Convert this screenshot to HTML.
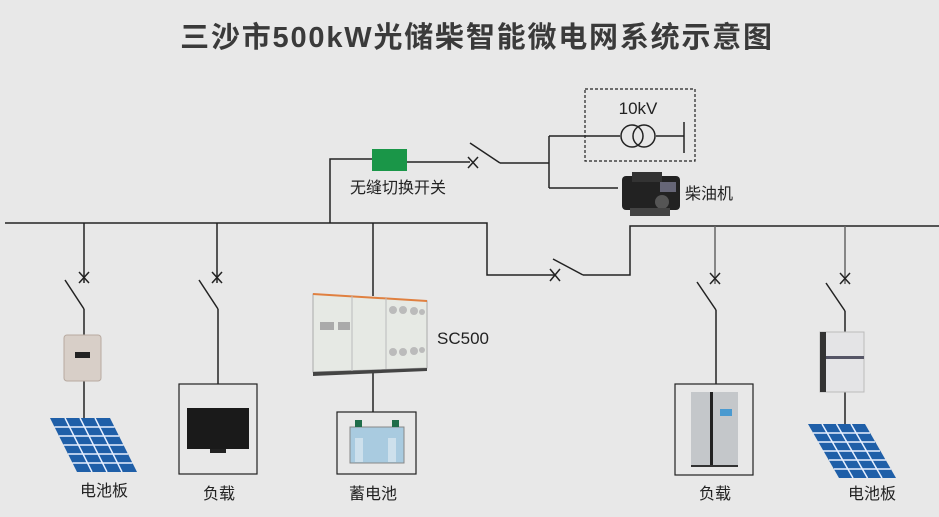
<!DOCTYPE html>
<html><head><meta charset="utf-8"><style>
html,body{margin:0;padding:0;background:#e8e8e8;}
svg{display:block;}
text{font-family:"Liberation Sans","Noto Sans CJK SC",sans-serif;fill:#222;}
</style></head><body>
<svg width="939" height="517" viewBox="0 0 939 517" xmlns="http://www.w3.org/2000/svg">
<rect width="939" height="517" fill="#e8e8e8"/>
<text x="477" y="47" text-anchor="middle" font-size="29" font-weight="bold" letter-spacing="1.8" style="fill:#3a3a3a">三沙市500kW光储柴智能微电网系统示意图</text>
<g stroke="#222" stroke-width="1.5" fill="none">
<polyline points="5,223 487,223 487,275 555,275"/>
<line x1="553" y1="259" x2="583" y2="275"/>
<polyline points="583,275 630,275 630,226 939,226"/>
<line x1="550" y1="269" x2="560" y2="281"/><line x1="560" y1="269" x2="550" y2="281"/>
<polyline points="330,223 330,159 372,159"/>
<line x1="407" y1="162" x2="470" y2="162"/>
<line x1="470" y1="143" x2="500" y2="163"/>
<line x1="468" y1="157" x2="478" y2="168"/><line x1="478" y1="157" x2="468" y2="168"/>
<line x1="500" y1="163" x2="549" y2="163"/>
<line x1="549" y1="136" x2="549" y2="188"/>
<line x1="549" y1="136" x2="620" y2="136"/>
<circle cx="632" cy="136" r="11"/><circle cx="644" cy="136" r="11"/>
<line x1="656" y1="136" x2="684" y2="136"/>
<line x1="684" y1="122" x2="684" y2="153"/>
<line x1="549" y1="188" x2="618" y2="188"/>
<rect x="585" y="89" width="110" height="72" stroke-dasharray="3,2" stroke-width="1.2"/>
<polyline points="84,223 84,283"/>
<line x1="79" y1="272" x2="89" y2="283"/><line x1="89" y1="272" x2="79" y2="283"/>
<line x1="65" y1="280" x2="84" y2="309"/>
<line x1="84" y1="309" x2="84" y2="336"/>
<line x1="84" y1="380" x2="84" y2="419"/>
<polyline points="217,223 217,283"/>
<line x1="212" y1="272" x2="222" y2="283"/><line x1="222" y1="272" x2="212" y2="283"/>
<line x1="199" y1="280" x2="218" y2="309"/>
<line x1="218" y1="309" x2="218" y2="384"/>
<rect x="179" y="384" width="78" height="90" stroke-width="1.2"/>
<line x1="373" y1="223" x2="373" y2="296"/>
<line x1="373" y1="372" x2="373" y2="412"/>
<rect x="337" y="412" width="79" height="62" stroke-width="1.2"/>
<line x1="715" y1="226" x2="715" y2="284" stroke="#666"/>
<line x1="710" y1="273" x2="720" y2="284"/><line x1="720" y1="273" x2="710" y2="284"/>
<line x1="697" y1="282" x2="716" y2="310"/>
<line x1="716" y1="310" x2="716" y2="384"/>
<rect x="675" y="384" width="78" height="91" stroke-width="1.2"/>
<line x1="845" y1="226" x2="845" y2="284" stroke="#666"/>
<line x1="840" y1="273" x2="850" y2="284"/><line x1="850" y1="273" x2="840" y2="284"/>
<line x1="826" y1="283" x2="845" y2="311"/>
<line x1="845" y1="311" x2="845" y2="332"/>
<line x1="845" y1="390" x2="845" y2="425"/>
</g>
<rect x="372" y="149" width="35" height="22" fill="#1a9648"/>
<text x="398" y="193" text-anchor="middle" font-size="16">无缝切换开关</text>
<text x="638" y="114" text-anchor="middle" font-size="17">10kV</text>
<g>
<rect x="622" y="176" width="58" height="34" rx="4" fill="#222"/>
<rect x="632" y="172" width="30" height="10" fill="#333"/>
<rect x="660" y="182" width="16" height="10" fill="#667"/>
<circle cx="662" cy="202" r="7" fill="#555"/>
<rect x="630" y="208" width="40" height="8" fill="#444"/>
</g>
<text x="685" y="199" font-size="16">柴油机</text>
<rect x="64" y="335" width="37" height="46" rx="3" fill="#d8cfc8" stroke="#b8aaa0"/>
<rect x="75" y="352" width="15" height="6" fill="#222"/>
<g>
<polygon points="50,418 110,418 137,472 77,472" fill="#1f5fa8"/>
<g stroke="#e8f0ff" stroke-width="1.5">
<line x1="65" y1="418" x2="92" y2="472"/><line x1="80" y1="418" x2="107" y2="472"/><line x1="95" y1="418" x2="122" y2="472"/>
<line x1="54.5" y1="427" x2="114.5" y2="427"/><line x1="59" y1="436" x2="119" y2="436"/><line x1="63.5" y1="445" x2="123.5" y2="445"/><line x1="68" y1="454" x2="128" y2="454"/><line x1="72.5" y1="463" x2="132.5" y2="463"/>
</g></g>
<text x="104" y="496" text-anchor="middle" font-size="16">电池板</text>
<rect x="187" y="408" width="62" height="41" fill="#1a1a1a"/>
<rect x="210" y="449" width="16" height="4" fill="#222"/>
<text x="219" y="499" text-anchor="middle" font-size="16">负载</text>
<g>
<polygon points="313,294 427,301 427,368 313,372" fill="#e6e9e4" stroke="#aaa"/>
<polygon points="313,372 427,368 427,371 313,376" fill="#444"/>
<line x1="313" y1="294" x2="427" y2="301" stroke="#e08040" stroke-width="2"/>
<line x1="352" y1="296" x2="352" y2="371" stroke="#bbb"/><line x1="386" y1="298" x2="386" y2="369" stroke="#bbb"/>
<rect x="320" y="322" width="14" height="8" fill="#aaa"/><rect x="338" y="322" width="12" height="8" fill="#aaa"/>
<circle cx="393" cy="310" r="4" fill="#bbb"/><circle cx="403" cy="310" r="4" fill="#bbb"/><circle cx="414" cy="311" r="4" fill="#bbb"/><circle cx="422" cy="312" r="3" fill="#bbb"/>
<circle cx="393" cy="352" r="4" fill="#bbb"/><circle cx="403" cy="352" r="4" fill="#bbb"/><circle cx="414" cy="351" r="4" fill="#bbb"/><circle cx="422" cy="350" r="3" fill="#bbb"/>
</g>
<text x="437" y="344" font-size="17">SC500</text>
<rect x="350" y="427" width="54" height="36" fill="#a9cbe0" stroke="#888"/>
<rect x="355" y="438" width="8" height="24" fill="#cde0ec"/><rect x="388" y="438" width="8" height="24" fill="#cde0ec"/>
<rect x="355" y="420" width="7" height="7" fill="#1f6d4a"/><rect x="392" y="420" width="7" height="7" fill="#1f6d4a"/>
<text x="373" y="499" text-anchor="middle" font-size="16">蓄电池</text>
<rect x="691" y="392" width="47" height="74" fill="#c4c7ca"/>
<rect x="710" y="392" width="3" height="74" fill="#222"/>
<rect x="720" y="409" width="12" height="7" fill="#4a9ad0"/>
<rect x="691" y="465" width="47" height="2" fill="#333"/>
<text x="715" y="499" text-anchor="middle" font-size="16">负载</text>
<rect x="820" y="332" width="44" height="60" fill="#e4e4e6" stroke="#bbb"/>
<rect x="820" y="332" width="6" height="60" fill="#333"/>
<rect x="826" y="356" width="38" height="3" fill="#556"/>
<g>
<polygon points="808,424 865,424 896,478 839,478" fill="#1f5fa8"/>
<g stroke="#e8f0ff" stroke-width="1.5">
<line x1="822" y1="424" x2="853" y2="478"/><line x1="836.5" y1="424" x2="867.5" y2="478"/><line x1="851" y1="424" x2="882" y2="478"/>
<line x1="813" y1="433" x2="870" y2="433"/><line x1="818" y1="442" x2="875" y2="442"/><line x1="823" y1="451" x2="880" y2="451"/><line x1="829" y1="460" x2="886" y2="460"/><line x1="834" y1="469" x2="891" y2="469"/>
</g></g>
<text x="872" y="499" text-anchor="middle" font-size="16">电池板</text>
</svg>
</body></html>
